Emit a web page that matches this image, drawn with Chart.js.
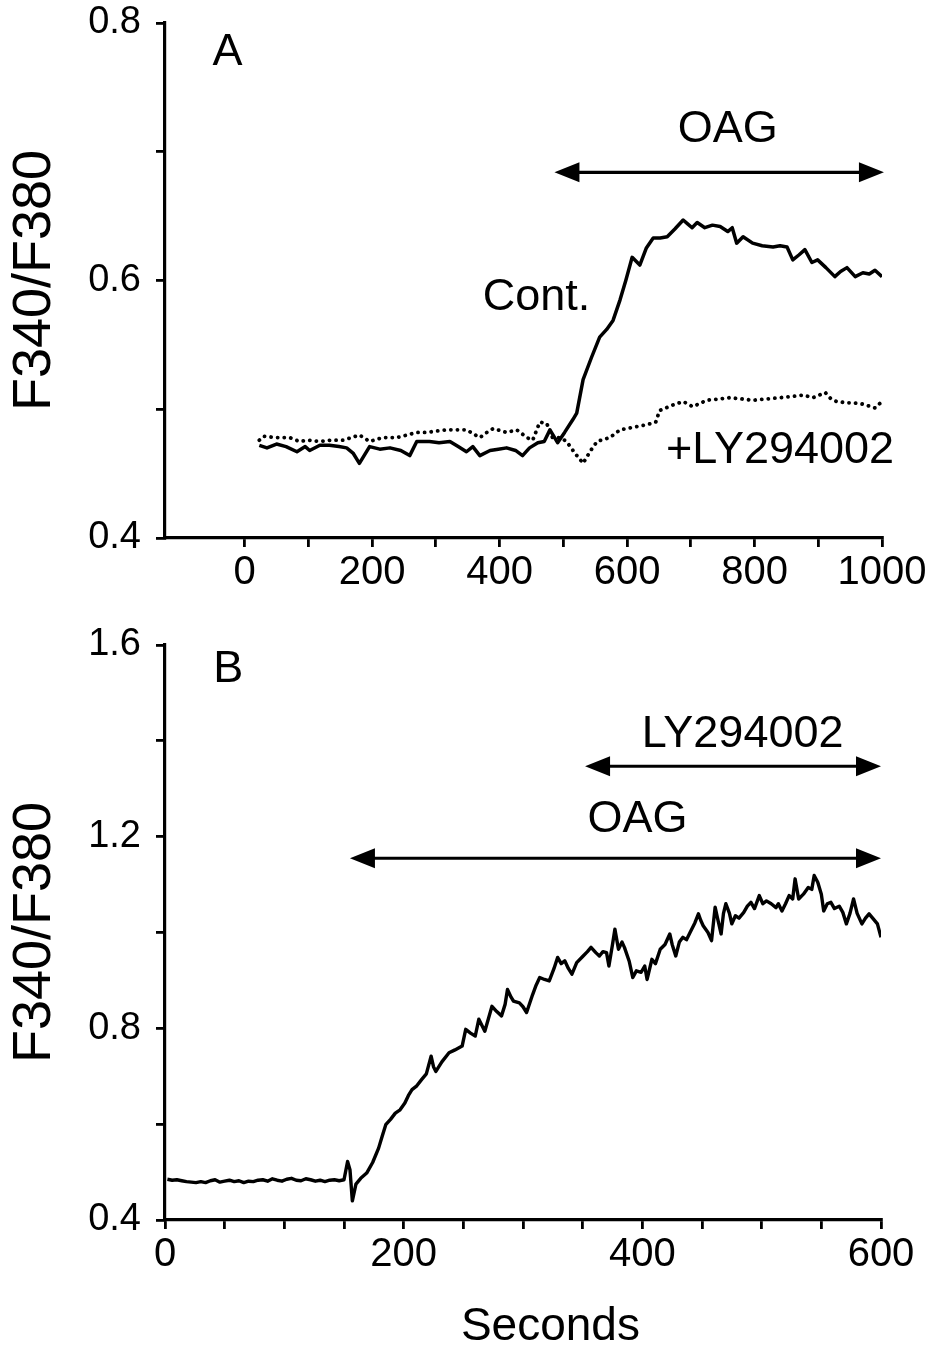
<!DOCTYPE html>
<html>
<head>
<meta charset="utf-8">
<script src="https://cdn.jsdelivr.net/npm/chart.js@4.4.1/dist/chart.umd.min.js"></script>
<style>
  html, body { margin: 0; padding: 0; background: #fff; }
  #wrap { position: relative; width: 946px; height: 1351px; overflow: hidden; }
  canvas { position: absolute; left: 0; }
  #cA { top: 0; }
  #cB { top: 600px; }
</style>
</head>
<body>
<div id="wrap">
  <canvas id="cA" width="946" height="600"></canvas>
  <canvas id="cB" width="946" height="751"></canvas>
</div>
<script>
// ---------- Panel A data ----------
const contTime = [23,35,50,65,82,95,102,118,133,148,160,170,180,196,212,228,245,259,270,290,305,322,335,348,358,369,385,398,411,425,436,447,460,470,479,491,502,515,521,531,544,557,568,578,589,598,608,620,630,641,652,663,675,688,695,702,710,722,734,746,758,765,772,782,797,812,829,840,851,860,870,879,890,899,912,926,935,945,958,970,980,989,1000];
const contRatio = [.472,.470,.473,.471,.467,.471,.468,.472,.472,.471,.470,.466,.458,.471,.469,.470,.468,.464,.475,.475,.474,.475,.471,.467,.471,.464,.468,.469,.470,.468,.464,.470,.474,.475,.484,.474,.482,.492,.497,.523,.540,.556,.562,.569,.585,.600,.618,.612,.625,.633,.633,.634,.640,.647,.644,.641,.645,.641,.643,.642,.638,.641,.629,.634,.629,.627,.626,.627,.626,.616,.620,.624,.614,.616,.610,.603,.607,.610,.603,.606,.605,.608,.603];

const lyTime = [23,30,50,71,86,100,118,135,154,168,180,196,217,239,255,270,285,300,317,333,348,369,380,390,411,427,443,452,463,474,483,495,505,518,531,543,553,573,589,610,631,645,651,670,688,703,725,745,761,780,797,820,840,860,876,892,911,920,929,945,955,970,989,1002];
const lyRatio = [.476,.479,.478,.478,.475,.476,.475,.476,.476,.478,.480,.475,.478,.478,.480,.482,.482,.483,.484,.484,.484,.478,.482,.485,.482,.484,.478,.476,.490,.489,.478,.478,.475,.466,.458,.468,.475,.478,.484,.486,.488,.490,.499,.503,.506,.502,.507,.508,.509,.508,.507,.508,.509,.510,.511,.509,.513,.508,.506,.505,.505,.504,.501,.507];

const aXTicks = [0,100,200,300,400,500,600,700,800,900,1000];
const aXLabels = [0,200,400,600,800,1000];
const aYTicks = [0.4,0.5,0.6,0.7,0.8];
const aYLabels = [0.4,0.6,0.8];

// ---------- Panel B data ----------
const bTime = [2,6,10,14,18,22,26,30,34,38,42,46,50,54,58,62,66,70,74,78,82,86,90,94,98,102,106,110,114,118,122,126,130,134,138,142,146,150,
153,155,157,160,164,169,174,179,182,185,189,193,197,201,204,207,211,215,219,223,225,227,232,238,243,249,252,256,260,263,268,271,274,278,282,285,287,290,292,297,300,303,308,311,314,318,322,326,329,332,335,338,341,345,350,354,357,361,364,367,370,372,375,377,380,383,385,389,392,395,399,402,404,408,411,415,419,423,425,428,431,434,437,440,444,447,449,451,455,458,461,463,466,468,470,473,475,478,481,485,488,491,494,498,501,504,508,512,514,517,520,523,526,528,531,535,539,542,544,547,550,552,555,558,561,565,568,571,574,577,580,584,587,590,593,597,600];
const bRatio = [.485,.483,.484,.482,.480,.479,.478,.480,.478,.482,.484,.479,.481,.483,.480,.482,.478,.481,.480,.483,.484,.481,.486,.483,.481,.485,.487,.483,.482,.486,.484,.481,.483,.480,.483,.484,.482,.484,
.522,.505,.440,.475,.487,.498,.520,.550,.575,.599,.610,.623,.630,.644,.660,.672,.680,.693,.705,.742,.720,.710,.730,.749,.755,.763,.798,.790,.784,.819,.794,.820,.846,.835,.826,.850,.881,.865,.857,.853,.845,.833,.870,.890,.906,.902,.899,.925,.948,.935,.941,.925,.913,.937,.950,.960,.969,.958,.951,.960,.958,.930,.975,1.007,.965,.980,.969,.940,.906,.920,.917,.930,.902,.944,.935,.965,.975,.997,.975,.951,.980,.990,.985,1.000,1.020,1.039,1.025,1.014,1.000,.983,1.053,1.030,.997,1.040,1.060,1.040,1.018,1.035,1.030,1.042,1.055,1.063,1.050,1.077,1.060,1.066,1.060,1.052,1.060,1.045,1.060,1.077,1.070,1.112,1.070,1.080,1.094,1.090,1.119,1.105,1.080,1.045,1.060,1.063,1.050,1.055,1.042,1.018,1.040,1.070,1.040,1.018,1.030,1.039,1.030,1.018,.990];

const bXTicks = [0,50,100,150,200,250,300,350,400,450,500,550,600];
const bXLabels = [0,200,400,600];
const bYTicks = [0.4,0.6,0.8,1.0,1.2,1.4,1.6];
const bYLabels = [0.4,0.8,1.2,1.6];

// annotations (data coordinates)
const aTexts = [
  {text: 'A', x: -27, y: 0.777},
  {text: 'OAG', x: 758, y: 0.717},
  {text: 'Cont.', x: 458, y: 0.587},
  {text: '+LY294002', x: 840, y: 0.468}
];
const aArrows = [ {x1: 486, x2: 1003, y: 0.684} ];
const bTexts = [
  {text: 'B', x: 53, y: 1.548},
  {text: 'LY294002', x: 484, y: 1.412},
  {text: 'OAG', x: 396, y: 1.235}
];
const bArrows = [
  {x1: 352, x2: 600, y: 1.347},
  {x1: 155, x2: 600, y: 1.155}
];
// x-axis title of panel B (placed off-centre, as in the original)
const bXTitle = {text: 'Seconds', x: 323, y: 0.176};

// ---------- drawing ----------
const FONT = '"Liberation Sans", Arial, Helvetica, sans-serif';
Chart.defaults.font.family = FONT;
Chart.defaults.color = '#000';

const annotPlugin = {
  id: 'annot',
  afterDatasetsDraw(chart, args, opts) {
    const ctx = chart.ctx;
    const xs = chart.scales.x, ys = chart.scales.y;
    ctx.save();
    ctx.fillStyle = '#000';
    ctx.strokeStyle = '#000';
    ctx.textAlign = 'center';
    ctx.textBaseline = 'middle';
    ctx.font = opts.fontSize + 'px ' + FONT;
    (opts.texts || []).forEach(t => {
      ctx.fillText(t.text, xs.getPixelForValue(t.x), ys.getPixelForValue(t.y));
    });
    if (opts.axisTitle) {
      ctx.font = opts.axisTitleSize + 'px ' + FONT;
      ctx.fillText(opts.axisTitle.text, xs.getPixelForValue(opts.axisTitle.x), ys.getPixelForValue(opts.axisTitle.y));
    }
    (opts.arrows || []).forEach(a => {
      const x1 = xs.getPixelForValue(a.x1), x2 = xs.getPixelForValue(a.x2), y = ys.getPixelForValue(a.y);
      const hl = 25, hw = 10;
      ctx.lineWidth = 3.2;
      ctx.beginPath();
      ctx.moveTo(x1 + hl - 4, y); ctx.lineTo(x2 - hl + 4, y); ctx.stroke();
      ctx.beginPath();
      ctx.moveTo(x1, y); ctx.lineTo(x1 + hl, y - hw); ctx.lineTo(x1 + hl, y + hw); ctx.closePath(); ctx.fill();
      ctx.beginPath();
      ctx.moveTo(x2, y); ctx.lineTo(x2 - hl, y - hw); ctx.lineTo(x2 - hl, y + hw); ctx.closePath(); ctx.fill();
    });
    ctx.restore();
  }
};

function near(v, list) { return list.some(l => Math.abs(l - v) < 1e-6); }

function makeScales(o) {
  return {
    x: {
      type: 'linear', min: o.xmin, max: o.xmax,
      afterBuildTicks: s => { s.ticks = o.xTicks.map(v => ({value: v})); },
      afterFit: s => { s.height = o.xHeight; s.paddingLeft = 0; s.paddingRight = 0; },
      ticks: {
        autoSkip: false, maxRotation: 0, padding: 2,
        font: {size: 40},
        callback: v => near(v, o.xLabels) ? String(v) : ''
      },
      grid: {display: true, drawOnChartArea: false, drawTicks: true, tickLength: 9, color: '#000', lineWidth: 2.8},
      border: {display: true, color: '#000', width: 3.2},
      title: {display: false}
    },
    y: {
      type: 'linear', min: o.ymin, max: o.ymax,
      afterBuildTicks: s => { s.ticks = o.yTicks.map(v => ({value: v})); },
      afterFit: s => { s.width = 165; s.paddingTop = 0; s.paddingBottom = 0; },
      ticks: {
        autoSkip: false, padding: 15,
        font: {size: 38},
        callback: v => near(v, o.yLabels) ? v.toFixed(1) : ''
      },
      grid: {display: true, drawOnChartArea: false, drawTicks: true, tickLength: 9, color: '#000', lineWidth: 2.8},
      border: {display: true, color: '#000', width: 3.2},
      title: {display: true, text: 'F340/F380', font: {size: 54}, padding: {top: 3, bottom: 0}}
    }
  };
}

function pts(xs, ys) { return xs.map((x, i) => ({x: x, y: ys[i]})); }

new Chart(document.getElementById('cA'), {
  type: 'line',
  data: {
    datasets: [
      {data: pts(contTime, contRatio), borderColor: '#000', borderWidth: 3.5, pointRadius: 0, tension: 0, borderJoinStyle: 'round'},
      {data: pts(lyTime, lyRatio), borderColor: '#000', borderWidth: 3.8, pointRadius: 0, tension: 0, borderDash: [0.1, 6.5], borderCapStyle: 'round'}
    ]
  },
  options: {
    responsive: false, animation: false, devicePixelRatio: 1,
    layout: {padding: {top: 23, right: 64, left: 0, bottom: 0}},
    plugins: {legend: {display: false}, tooltip: {enabled: false},
      annot: {fontSize: 45, texts: aTexts, arrows: aArrows}},
    scales: makeScales({xmin: -125, xmax: 1000, xTicks: aXTicks, xLabels: aXLabels, xHeight: 62,
      ymin: 0.4, ymax: 0.8, yTicks: aYTicks, yLabels: aYLabels})
  },
  plugins: [annotPlugin]
});

new Chart(document.getElementById('cB'), {
  type: 'line',
  data: {
    datasets: [
      {data: pts(bTime, bRatio), borderColor: '#000', borderWidth: 3.4, pointRadius: 0, tension: 0, borderJoinStyle: 'round'}
    ]
  },
  options: {
    responsive: false, animation: false, devicePixelRatio: 1,
    layout: {padding: {top: 45, right: 65, left: 0, bottom: 0}},
    plugins: {legend: {display: false}, tooltip: {enabled: false},
      annot: {fontSize: 45, texts: bTexts, arrows: bArrows, axisTitle: bXTitle, axisTitleSize: 46}},
    scales: makeScales({xmin: 0, xmax: 600, xTicks: bXTicks, xLabels: bXLabels, xHeight: 131,
      ymin: 0.4, ymax: 1.6, yTicks: bYTicks, yLabels: bYLabels})
  },
  plugins: [annotPlugin]
});
</script>
</body>
</html>
